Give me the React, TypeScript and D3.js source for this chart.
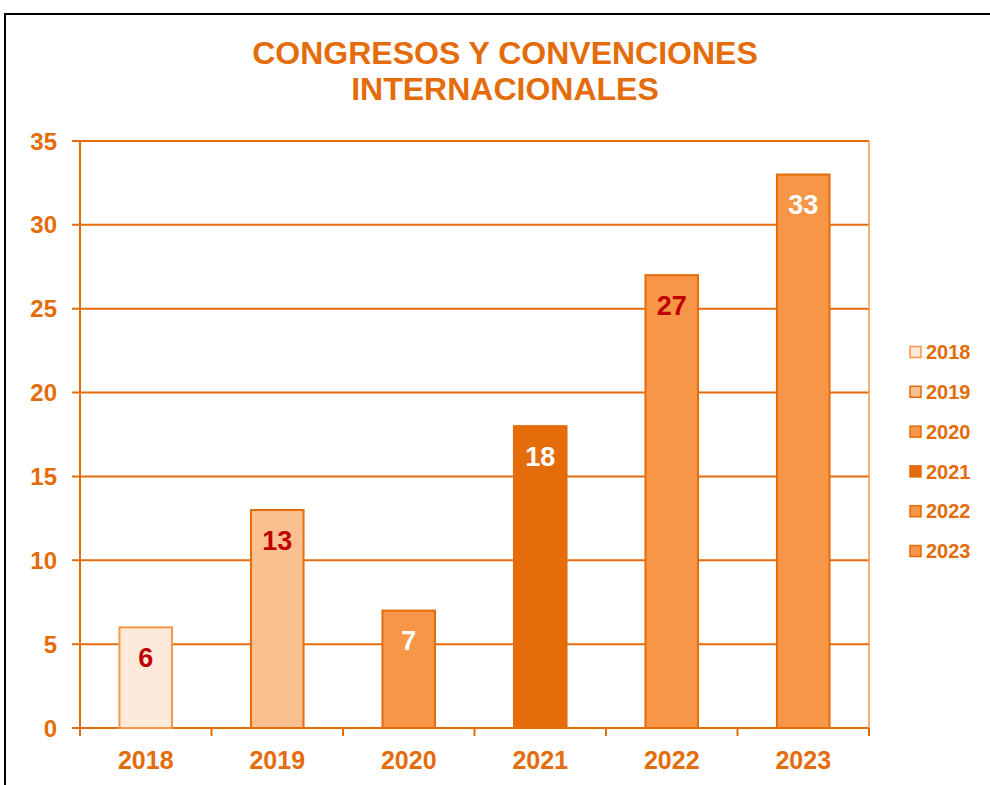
import React from "react";
import * as d3 from "d3";

const years = ["2018", "2019", "2020", "2021", "2022", "2023"];
const values = [6, 13, 7, 18, 27, 33];
const fills = ["#FDEADA", "#FAC090", "#F79646", "#E46C0A", "#F79646", "#F79646"];
const strokes = ["#F79646", "#E46C0A", "#E46C0A", "#E46C0A", "#E46C0A", "#E46C0A"];
const labelColors = ["#C00000", "#C00000", "#FFFFFF", "#FFFFFF", "#C00000", "#FFFFFF"];
const yTicks = [0, 5, 10, 15, 20, 25, 30, 35];
const titleLines = ["CONGRESOS Y CONVENCIONES", "INTERNACIONALES"];

const ORANGE = "#E46C0A";
const FONT = "'Liberation Sans', Arial, sans-serif";

export default function App() {
  const W = 990, H = 785;
  const left = 80, right = 869, top = 141, bottom = 728;
  const x = d3.scaleBand().domain(years).range([left, right]).paddingInner(0).paddingOuter(0);
  const y = d3.scaleLinear().domain([0, 35]).range([bottom, top]);
  const bw = x.bandwidth() * 0.4;
  const edges = d3.range(years.length + 1).map((i) => left + i * x.step());

  return (
    <svg width={W} height={H} style={{ position: "absolute", left: 0, top: 0, background: "#fff" }} fontFamily={FONT}>
      <rect x={5} y={14} width={1000} height={800} fill="#fff" stroke="#000" strokeWidth={2} />
      {titleLines.map((t, i) => (
        <text key={t} x={505} y={64 + i * 36} textAnchor="middle" fontSize={32} fontWeight="bold" fill={ORANGE}>
          {t}
        </text>
      ))}
      {yTicks.map((v) => (
        <g key={v}>
          <line x1={72} x2={right} y1={y(v)} y2={y(v)} stroke={ORANGE} strokeWidth={2} />
          <text x={57} y={y(v)} dy="0.36em" textAnchor="end" fontSize={24} fontWeight="bold" fill={ORANGE}>
            {v}
          </text>
        </g>
      ))}
      <line x1={left} x2={left} y1={top} y2={bottom} stroke={ORANGE} strokeWidth={2} />
      <line x1={right} x2={right} y1={top} y2={bottom} stroke="#F79646" strokeWidth={1.5} />
      {edges.map((e, i) => (
        <line key={i} x1={e} x2={e} y1={bottom} y2={bottom + 8} stroke={ORANGE} strokeWidth={2} />
      ))}
      {years.map((yr, i) => {
        const cx = (x(yr) as number) + x.bandwidth() / 2;
        return (
          <g key={yr}>
            <rect x={cx - bw / 2} y={y(values[i])} width={bw} height={bottom - y(values[i])} fill={fills[i]} stroke={strokes[i]} strokeWidth={2} />
            <text x={cx} y={y(values[i]) + 30} dy="0.36em" textAnchor="middle" fontSize={27} fontWeight="bold" fill={labelColors[i]}>
              {values[i]}
            </text>
            <text x={cx} y={769} textAnchor="middle" fontSize={25} fontWeight="bold" fill={ORANGE}>
              {yr}
            </text>
          </g>
        );
      })}
      {years.map((yr, i) => {
        const cy = 352 + i * 39.8;
        return (
          <g key={"lg" + yr}>
            <rect x={910} y={cy - 5.5} width={11} height={11} fill={fills[i]} stroke={strokes[i]} strokeWidth={1.5} />
            <text x={926} y={cy} dy="0.36em" fontSize={20} fontWeight="bold" fill={ORANGE}>
              {yr}
            </text>
          </g>
        );
      })}
    </svg>
  );
}
